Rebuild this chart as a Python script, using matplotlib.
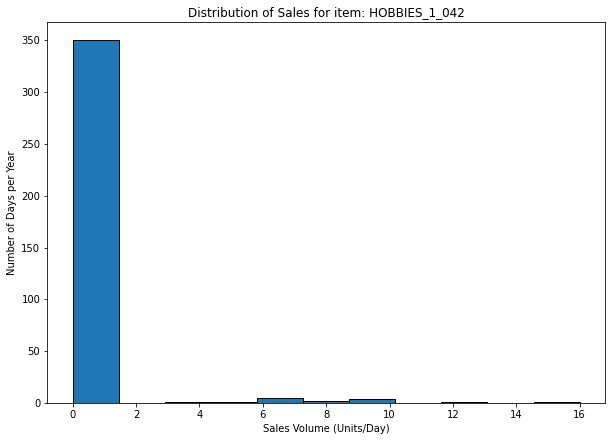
import numpy as np
import matplotlib
matplotlib.use('Agg')
import matplotlib.pyplot as plt

item = 'HOBBIES_1_042'
min_sales, max_sales = 0, 16
counts = [350, 0, 1, 1, 5, 2, 4, 0, 1, 0, 1]

edges = np.linspace(min_sales, max_sales, len(counts) + 1)
centers = (edges[:-1] + edges[1:]) / 2

fig, ax = plt.subplots(figsize=(8.5, 6.125), dpi=72)
fig.patch.set_facecolor('white')
ax.hist(centers, bins=edges, weights=counts, color='#1f77b4', edgecolor='black')
ax.set_title('Distribution of Sales for item: ' + item)
ax.set_xlabel('Sales Volume (Units/Day)')
ax.set_ylabel('Number of Days per Year')
plt.subplots_adjust(left=0.0773, right=0.9886, top=0.9494, bottom=0.0862)
plt.savefig('out.png', dpi=72, facecolor='white')
